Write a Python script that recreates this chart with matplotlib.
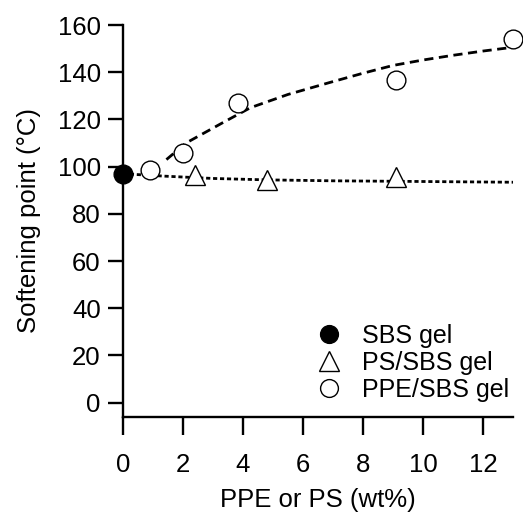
import matplotlib
matplotlib.use("Agg")
import matplotlib.pyplot as plt

# measured points
sbs_x = [0.0]
sbs_y = [97.0]
ps_x = [2.4, 4.8, 9.1]
ps_y = [96.5, 94.3, 95.5]
ppe_x = [0.9, 2.0, 3.85, 9.1, 13.0]
ppe_y = [98.5, 105.7, 126.8, 136.6, 154.0]

# guide curves
ppe_fit_x = [1.45, 2.1, 3.35, 4.25, 5.5, 6.9, 8.0, 9.0, 10.0, 11.0, 12.0, 13.0]
ppe_fit_y = [103.0, 110.0, 118.8, 125.0, 130.6, 135.7, 139.6, 142.9, 145.2, 147.2, 149.0, 150.6]
ps_fit_x = [0.0, 1.35, 3.0, 4.8, 7.0, 9.1, 11.0, 13.0]
ps_fit_y = [97.0, 96.0, 95.0, 94.4, 94.0, 93.8, 93.6, 93.4]

plt.rcParams['font.family'] = ['Liberation Sans', 'DejaVu Sans']

fig = plt.figure(figsize=(5.23, 5.12), dpi=100)
ax = fig.add_axes([0.235, 0.186, 0.746, 0.765])

ax.plot(ppe_fit_x, ppe_fit_y, color="black", lw=2.0, dashes=[3.3, 2.0])
ax.plot(ps_fit_x, ps_fit_y, color="black", lw=2.0, dashes=[1.5, 1.0])

ax.plot(sbs_x, sbs_y, "o", ms=13.5, mfc="black", mec="black", ls="none",
        label="SBS gel", clip_on=False, zorder=5)
ax.plot(ps_x, ps_y, "^", ms=15, mfc="white", mec="black", mew=1.0, ls="none",
        label="PS/SBS gel", clip_on=False, zorder=5)
ax.plot(ppe_x, ppe_y, "o", ms=13.5, mfc="white", mec="black", mew=1.0, ls="none",
        label="PPE/SBS gel", clip_on=False, zorder=5)

ax.set_xlim(0, 13)
ax.set_ylim(-6, 160)
ax.set_xticks(range(0, 13, 2))
ax.set_yticks(range(0, 161, 20))

for s in ["top", "right"]:
    ax.spines[s].set_visible(False)
for s in ["left", "bottom"]:
    ax.spines[s].set_linewidth(1.7)
ax.tick_params(direction="out", width=1.7, labelsize=18.5)
ax.tick_params(axis="x", length=13, pad=13)
ax.tick_params(axis="y", length=11, pad=5)

ax.set_xlabel("PPE or PS (wt%)", fontsize=18.5, labelpad=8)
ax.set_ylabel("Softening point (\u00b0C)", fontsize=18.5, labelpad=12)

ax.legend(loc="lower right", bbox_to_anchor=(1.015, 0.012), frameon=False, fontsize=18,
          handletextpad=0.3, labelspacing=0.12, borderaxespad=0.0, markerscale=0.95)

plt.savefig("out.png", dpi=100)
